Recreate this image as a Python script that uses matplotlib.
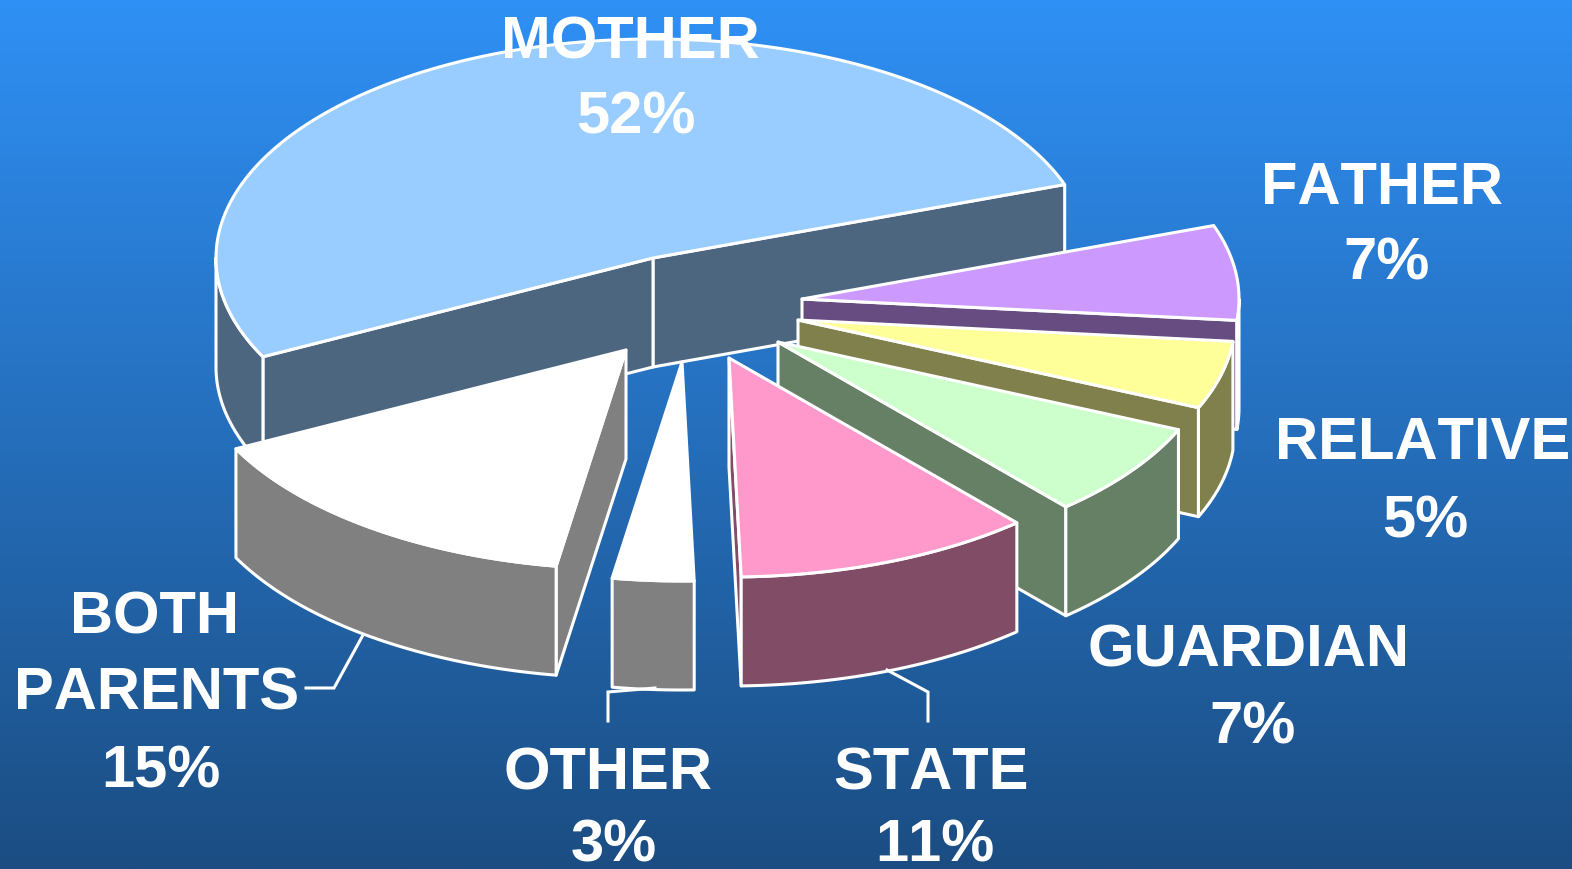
import numpy as np
import matplotlib
matplotlib.use("Agg")
import matplotlib.pyplot as plt
from matplotlib.patches import Polygon

plt.rcParams["text.kerning_factor"] = 6

categories = ["MOTHER", "BOTH\nPARENTS", "OTHER", "STATE", "GUARDIAN", "RELATIVE", "FATHER"]
shares = [52, 15, 3, 11, 7, 5, 7]

top_colors = ["#99CCFF", "#FFFFFF", "#FFFFFF", "#FF99CC", "#CCFFCC", "#FFFF99", "#CC99FF"]
side_colors = ["#4D6680", "#808080", "#808080", "#804C66", "#668066", "#80804C", "#664C80"]

# exploded apex of each slice, in figure pixels
apex_x = [653, 626, 682, 729, 778, 798, 802]
apex_y = [259, 351, 363, 359, 343, 321, 300]
draw_order = [0, 6, 5, 4, 3, 2, 1]

START_ANGLE = 19.6
RX, RY, DEPTH = 437, 219, 109
W, H = 1572, 870
LW = 2.2

fig = plt.figure(figsize=(W / 100, H / 100), dpi=100)
ax = fig.add_axes([0, 0, 1, 1])
ax.set_xlim(0, W)
ax.set_ylim(H, 0)
ax.axis("off")

c0, c1 = np.array([47, 144, 245]) / 255, np.array([27, 77, 130]) / 255
t = np.linspace(0, 1, 512)[:, None, None]
ax.imshow(c0 * (1 - t) + c1 * t, extent=[0, W, H, 0], aspect="auto", zorder=0)


def arc(cx, cy, a0, a1):
    ang = np.radians(np.linspace(a0, a1, max(2, int(abs(a1 - a0) * 2) + 1)))
    return np.column_stack([cx + RX * np.cos(ang), cy - RY * np.sin(ang)])


def face(pts, color, z):
    ax.add_patch(Polygon(pts, closed=True, facecolor=color, edgecolor="white",
                         linewidth=LW, joinstyle="round", zorder=z))


edges = START_ANGLE + np.concatenate([[0], np.cumsum(shares) / sum(shares) * 360])
z = 2
for i in draw_order:
    a0, a1 = edges[i], edges[i + 1]
    cx, cy = apex_x[i], apex_y[i]
    down = np.array([0, DEPTH])
    apex = np.array([cx, cy])
    # radial cut faces that turn toward the viewer
    for a, visible in ((a0, np.cos(np.radians(a0)) > 0), (a1, np.cos(np.radians(a1)) < 0)):
        if visible:
            p = arc(cx, cy, a, a)[0]
            face([apex, p, p + down, apex + down], side_colors[i], z)
            z += 1
    # outer wall: the part of the rim on the near half of the ellipse
    for lo, hi in ((180, 360), (540, 720)):
        s, e = max(a0, lo), min(a1, hi)
        if e > s:
            rim = arc(cx, cy, s, e)
            face(np.vstack([rim, (rim + down)[::-1]]), side_colors[i], z)
            z += 1
    # top
    face(np.vstack([apex, arc(cx, cy, a0, a1)]), top_colors[i], z)
    z += 1

# leader lines
for xs, ys in (([306, 334, 363], [689, 689, 636]),
               ([608, 608, 655], [722, 693, 689]),
               ([928, 928, 887], [722, 693, 671])):
    ax.plot(xs, ys, color="white", lw=LW, zorder=z, solid_joinstyle="miter")
z += 1

# labels: (name lines and share) at centre positions
label_pos = {
    "MOTHER": ([630], [43], 636, 118),
    "FATHER": ([1382], [188], 1387, 264),
    "RELATIVE": ([1423], [444], 1425, 522),
    "GUARDIAN": ([1249], [651], 1253, 728),
    "STATE": ([931], [774], 935, 846),
    "OTHER": ([608], [774], 614, 846),
    "BOTH\nPARENTS": ([155, 157], [618, 694], 161, 772),
}
for name, share in zip(categories, shares):
    xs, ys, px, py = label_pos[name]
    for line, x, y in zip(name.split("\n"), xs, ys):
        ax.text(x, y, line, color="white", ha="center", va="center",
                family="Liberation Sans", weight="bold", fontsize=43, zorder=z)
    ax.text(px, py, f"{share}%", color="white", ha="center", va="center",
            family="Liberation Sans", weight="bold", fontsize=43, zorder=z)

fig.savefig("out.png", dpi=100)
